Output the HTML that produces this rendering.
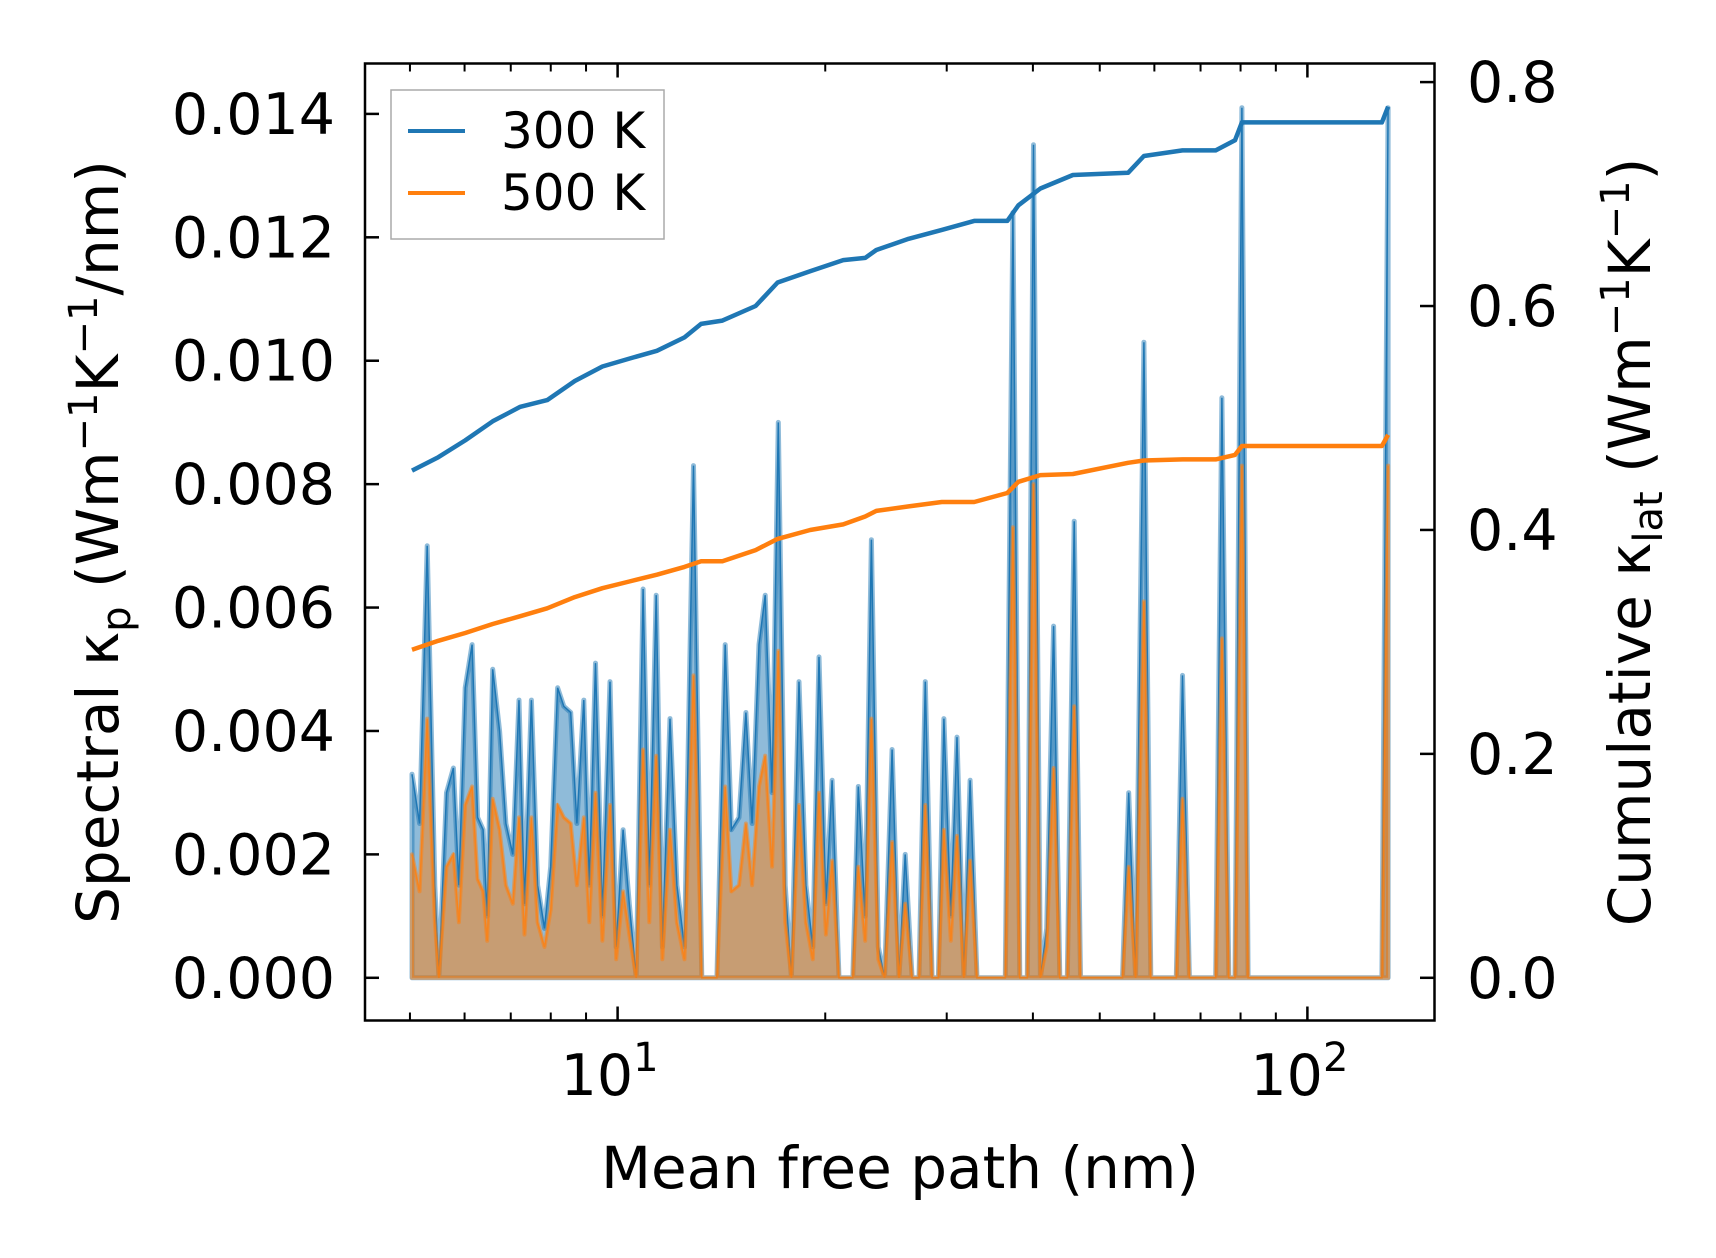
<!DOCTYPE html>
<html><head><meta charset="utf-8"><style>
html,body{margin:0;padding:0;background:#fff}
svg{display:block;font-family:"DejaVu Sans","Liberation Sans",sans-serif}
</style></head><body>
<svg id="chart" width="1716" height="1258" viewBox="0 0 1716 1258">
<g id="fills"></g>
<g id="lines"></g>
<rect x="365" y="63.5" width="1069.5" height="957" fill="none" stroke="#000" stroke-width="2.5"/>
<g id="ticks"></g>
<g>
<rect x="391" y="90" width="273" height="149" fill="#fff" fill-opacity="0.85" stroke="#aaa" stroke-width="1.5"/>
<line x1="408" y1="131" x2="465" y2="131" stroke="#1f77b4" stroke-width="4"/>
<text x="501" y="148" font-size="50">300 K</text>
<line x1="408" y1="193" x2="465" y2="193" stroke="#ff7f0e" stroke-width="4"/>
<text x="501" y="210" font-size="50">500 K</text>
</g>
<text x="900" y="1188" font-size="58" text-anchor="middle">Mean free path (nm)</text>
<text transform="translate(118,542) rotate(-90)" font-size="58" text-anchor="middle">Spectral κ<tspan font-size="40" dy="12">p</tspan><tspan dy="-12"> (Wm</tspan><tspan font-size="40" dy="-21">−1</tspan><tspan dy="21">K</tspan><tspan font-size="40" dy="-21">−1</tspan><tspan dy="21">/nm)</tspan></text>
<text transform="translate(1650,542) rotate(-90)" font-size="58" text-anchor="middle">Cumulative κ<tspan font-size="40" dy="12">lat</tspan><tspan dy="-12"> (Wm</tspan><tspan font-size="40" dy="-21">−1</tspan><tspan dy="21">K</tspan><tspan font-size="40" dy="-21">−1</tspan><tspan dy="21">)</tspan></text>
</svg>
<script>
const logMfp = [0.702,0.713,0.724,0.735,0.741,0.752,0.762,0.770,0.779,0.789,0.797,0.805,0.811,0.819,0.829,0.838,0.848,0.857,0.865,0.875,0.884,0.894,0.903,0.913,0.922,0.932,0.941,0.951,0.959,0.968,0.978,0.989,0.998,1.008,1.017,1.027,1.037,1.046,1.056,1.065,1.076,1.086,1.097,1.110,1.122,1.133,1.144,1.156,1.165,1.176,1.186,1.195,1.205,1.214,1.224,1.233,1.243,1.252,1.263,1.273,1.283,1.292,1.302,1.311,1.321,1.330,1.341,1.349,1.359,1.368,1.378,1.387,1.398,1.408,1.417,1.427,1.437,1.446,1.456,1.465,1.473,1.483,1.492,1.502,1.511,1.521,1.562,1.573,1.583,1.594,1.603,1.613,1.622,1.632,1.641,1.652,1.662,1.671,1.732,1.741,1.751,1.763,1.773,1.810,1.819,1.829,1.867,1.876,1.886,1.895,1.905,1.914,2.108,2.117];
const spec300 = [0.0033,0.0025,0.0070,0.0015,0.0000,0.0030,0.0034,0.0015,0.0047,0.0054,0.0026,0.0024,0.0010,0.0050,0.0040,0.0025,0.0020,0.0045,0.0012,0.0045,0.0015,0.0008,0.0018,0.0047,0.0044,0.0043,0.0025,0.0045,0.0015,0.0051,0.0010,0.0048,0.0005,0.0024,0.0012,0.0000,0.0063,0.0015,0.0062,0.0005,0.0042,0.0015,0.0005,0.0083,0.0000,0.0000,0.0000,0.0054,0.0024,0.0026,0.0043,0.0025,0.0054,0.0062,0.0030,0.0090,0.0015,0.0000,0.0048,0.0015,0.0005,0.0052,0.0012,0.0032,0.0000,0.0000,0.0000,0.0031,0.0010,0.0071,0.0005,0.0000,0.0037,0.0000,0.0020,0.0000,0.0000,0.0048,0.0000,0.0000,0.0042,0.0010,0.0039,0.0000,0.0032,0.0000,0.0000,0.0124,0.0000,0.0000,0.0135,0.0000,0.0008,0.0057,0.0000,0.0000,0.0074,0.0000,0.0000,0.0030,0.0000,0.0103,0.0000,0.0000,0.0049,0.0000,0.0000,0.0094,0.0000,0.0000,0.0141,0.0000,0.0000,0.0141];
const spec500 = [0.0020,0.0014,0.0042,0.0009,0.0000,0.0018,0.0020,0.0009,0.0028,0.0031,0.0016,0.0014,0.0006,0.0029,0.0024,0.0015,0.0012,0.0026,0.0007,0.0026,0.0009,0.0005,0.0011,0.0028,0.0026,0.0025,0.0015,0.0026,0.0009,0.0030,0.0006,0.0028,0.0003,0.0014,0.0007,0.0000,0.0037,0.0009,0.0036,0.0003,0.0024,0.0009,0.0003,0.0049,0.0000,0.0000,0.0000,0.0031,0.0014,0.0015,0.0025,0.0015,0.0031,0.0036,0.0018,0.0053,0.0009,0.0000,0.0028,0.0009,0.0003,0.0030,0.0007,0.0019,0.0000,0.0000,0.0000,0.0018,0.0006,0.0042,0.0003,0.0000,0.0022,0.0000,0.0012,0.0000,0.0000,0.0028,0.0000,0.0000,0.0024,0.0006,0.0023,0.0000,0.0019,0.0000,0.0000,0.0073,0.0000,0.0000,0.0080,0.0000,0.0005,0.0034,0.0000,0.0000,0.0044,0.0000,0.0000,0.0018,0.0000,0.0061,0.0000,0.0000,0.0029,0.0000,0.0000,0.0055,0.0000,0.0000,0.0083,0.0000,0.0000,0.0083];
const cumLogMfp = [0.702,0.740,0.779,0.819,0.859,0.898,0.938,0.978,1.017,1.057,1.097,1.121,1.152,1.200,1.232,1.279,1.327,1.359,1.375,1.422,1.470,1.517,1.565,1.581,1.613,1.660,1.740,1.763,1.819,1.867,1.895,1.905,2.108,2.117];
const cum300 = [0.453,0.465,0.480,0.497,0.510,0.516,0.533,0.546,0.553,0.560,0.572,0.584,0.587,0.600,0.621,0.631,0.641,0.643,0.650,0.660,0.668,0.676,0.676,0.690,0.705,0.717,0.719,0.734,0.739,0.739,0.748,0.764,0.764,0.778];
const cum500 = [0.293,0.301,0.308,0.316,0.323,0.330,0.340,0.348,0.354,0.360,0.367,0.372,0.372,0.382,0.392,0.400,0.405,0.412,0.417,0.421,0.425,0.425,0.433,0.443,0.449,0.450,0.460,0.462,0.463,0.463,0.467,0.475,0.475,0.485];
const leftTicks = [0,0.002,0.004,0.006,0.008,0.010,0.012,0.014];
const rightTicks = [0,0.2,0.4,0.6,0.8];
const xMajor = [1,2];

const NS='http://www.w3.org/2000/svg';
const xs = l => 617.6 + (l-1)*689.8;
const yl = v => 977.8 - v*(977.8-113.9)/0.014;
const yr = v => 977.8 - v*(977.8-82.1)/0.8;
function mk(tag, attrs, parent){const e=document.createElementNS(NS,tag);for(const k in attrs)e.setAttribute(k,attrs[k]);parent.appendChild(e);return e;}
const fills=document.getElementById('fills'), lines=document.getElementById('lines'), ticks=document.getElementById('ticks');

function fillPath(vals){let d='M'+xs(logMfp[0])+','+yl(0);vals.forEach((v,i)=>{d+=' L'+xs(logMfp[i]).toFixed(1)+','+yl(v).toFixed(1);});d+=' L'+xs(logMfp[logMfp.length-1])+','+yl(0)+' Z';return d;}
function linePath(xa,vals,fy){return vals.map((v,i)=>(i?'L':'M')+xs(xa[i]).toFixed(1)+','+fy(v).toFixed(1)).join(' ');}

let f1=mk('path',{d:fillPath(spec300),fill:'#1f77b4','fill-opacity':0.5,stroke:'#1f77b4','stroke-opacity':0.5,'stroke-width':5,'stroke-linejoin':'round'},fills);


let l1=mk('path',{d:linePath(logMfp,spec300,yl),fill:'none',stroke:'#1f77b4','stroke-width':1.5},fills);


let f2=mk('path',{d:fillPath(spec500),fill:'#ff7f0e','fill-opacity':0.5,stroke:'#ff7f0e','stroke-opacity':0.5,'stroke-width':4,'stroke-linejoin':'round'},fills);


let l2=mk('path',{d:linePath(logMfp,spec500,yl),fill:'none',stroke:'#ff7f0e','stroke-width':1.5,'stroke-opacity':0.8},fills);


let c1=mk('path',{d:linePath(cumLogMfp,cum300,yr),fill:'none',stroke:'#1f77b4','stroke-width':4.5,'stroke-linejoin':'round'},lines);


let c2=mk('path',{d:linePath(cumLogMfp,cum500,yr),fill:'none',stroke:'#ff7f0e','stroke-width':4.5,'stroke-linejoin':'round'},lines);



leftTicks.forEach(v=>{const y=yl(v);
 mk('line',{x1:365,y1:y,x2:379,y2:y,stroke:'#000','stroke-width':2.5},ticks);
 const t=mk('text',{x:335,y:y+20,'font-size':57,'text-anchor':'end'},ticks);t.textContent=v.toFixed(3);
 
 
});
rightTicks.forEach(v=>{const y=yr(v);
 mk('line',{x1:1420,y1:y,x2:1434.5,y2:y,stroke:'#000','stroke-width':2.5},ticks);
 const t=mk('text',{x:1467,y:y+20,'font-size':57},ticks);t.textContent=v.toFixed(1);
 
 
});
for(let dec=0;dec<=2;dec++){for(let m=1;m<10;m++){const l=dec+Math.log10(m);const x=xs(l);if(x<365||x>1434.5)continue;const len=m===1?14:8;
 mk('line',{x1:x,y1:1020.5,x2:x,y2:1020.5-len,stroke:'#000','stroke-width':m===1?2.5:2},ticks);
 mk('line',{x1:x,y1:63.5,x2:x,y2:63.5+len,stroke:'#000','stroke-width':m===1?2.5:2},ticks);}}
xMajor.forEach(p=>{const x=xs(p);
 const t=mk('text',{x:x-8,y:1095,'font-size':57,'text-anchor':'middle'},ticks);
 
 
 t.textContent='10';const s=document.createElementNS(NS,'tspan');s.setAttribute('font-size',40);s.setAttribute('dy',-24);s.textContent=String(p);t.appendChild(s);
});
</script>
</body></html>
